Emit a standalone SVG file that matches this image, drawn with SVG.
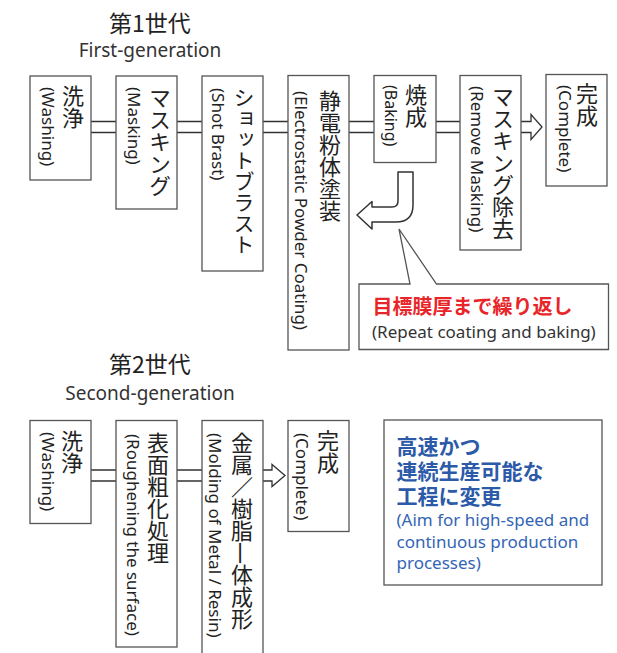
<svg xmlns="http://www.w3.org/2000/svg" width="617" height="653" viewBox="0 0 617 653">
<style>
.box{fill:#fff;stroke:#555;stroke-width:1.3}
.ln{fill:none;stroke:#333;stroke-width:1.3}
.jp{font-family:"Noto Sans CJK JP","Noto Sans",sans-serif;font-size:22px;fill:#222;writing-mode:vertical-rl}
.en{font-family:"Noto Sans","Noto Sans CJK JP",sans-serif;font-size:17px;fill:#222;writing-mode:vertical-rl}
.t1{font-family:"Noto Sans CJK JP",sans-serif;font-size:23px;fill:#222;text-anchor:middle}
.t2{font-family:"Noto Sans","Noto Sans CJK JP",sans-serif;font-size:19px;fill:#333;text-anchor:middle}
.red{font-family:"Noto Sans CJK JP",sans-serif;font-size:20px;font-weight:700;fill:#e8262a}
.sub{font-family:"Noto Sans","Noto Sans CJK JP",sans-serif;font-size:17px;fill:#333}
.bj{font-family:"Noto Sans CJK JP",sans-serif;font-size:21px;font-weight:700;fill:#2c5aa8}
.be{font-family:"Noto Sans","Noto Sans CJK JP",sans-serif;font-size:17px;fill:#3465b5}
</style>

<g id="title1">
<text class="t1" x="150" y="32">第1世代</text>
<text class="t2" x="150" y="57">First-generation</text>
</g>
<g id="title2">
<text class="t1" x="150" y="373">第2世代</text>
<text class="t2" x="150" y="400">Second-generation</text>
</g>

<g id="connectors">
<path class="ln" d="M91,121.5H116M91,132.5H116M177,121.5H202M177,132.5H202M263,121.5H288M263,132.5H288M349,121.5H374M349,132.5H374M436,121.5H460M436,132.5H460"/>
<path class="ln" d="M521,121.5H531V114.5L542,127L531,139.5V132.5H521"/>
<path class="ln" d="M91,470H116M91,481H116M177,470H202M177,481H202"/>
<path class="ln" d="M263,470H272V464.5L285,475.5L272,486.5V481H263"/>
<path d="M398,172H413V205Q413,222 396,222H372V229L357,215L372,201.5V207H392Q398,207 398,201Z" fill="#fff" stroke="#333" stroke-width="1.5" stroke-linejoin="round"/>
</g>

<g id="n1">
<rect class="box" x="30" y="76" width="61" height="104"/>
<text class="jp" x="73" y="85">洗浄</text>
<text class="en" x="48" y="87">(Washing)</text>
</g>
<g id="n2">
<rect class="box" x="116" y="76" width="61" height="133"/>
<text class="jp" x="160" y="87">マスキング</text>
<text class="en" x="134" y="87">(Masking)</text>
</g>
<g id="n3">
<rect class="box" x="202" y="76" width="61" height="195"/>
<text class="jp" x="244" y="87" style="font-size:21px">ショットブラスト</text>
<text class="en" x="218" y="88">(Shot Brast)</text>
</g>
<g id="n4">
<rect class="box" x="288" y="75.5" width="61" height="274.5"/>
<text class="jp" x="330" y="90">静電粉体塗装</text>
<text class="en" x="301" y="91">(Electrostatic Powder Coating)</text>
</g>
<g id="n5">
<rect class="box" x="374" y="75.5" width="62" height="87"/>
<text class="jp" x="416" y="84">焼成</text>
<text class="en" x="391" y="85" style="font-size:16px">(Baking)</text>
</g>
<g id="n6">
<rect class="box" x="460" y="75.5" width="61" height="174.5"/>
<text class="jp" x="503" y="86">マスキング除去</text>
<text class="en" x="477" y="86">(Remove Masking)</text>
</g>
<g id="n7">
<rect class="box" x="546" y="74.5" width="61" height="111.5"/>
<text class="jp" x="587" y="83">完成</text>
<text class="en" x="565" y="85">(Complete)</text>
</g>

<g id="callout">
<path class="box" d="M359,284H410L399,229L436.5,284H608.5V349.5H359Z"/>
<text class="red" x="372.5" y="314">目標膜厚まで繰り返し</text>
<text class="sub" x="372" y="338">(Repeat coating and baking)</text>
</g>

<g id="m1">
<rect class="box" x="30" y="420.5" width="61" height="103"/>
<text class="jp" x="72" y="430">洗浄</text>
<text class="en" x="48" y="432">(Washing)</text>
</g>
<g id="m2">
<rect class="box" x="116" y="420.5" width="61" height="226.5"/>
<text class="jp" x="158" y="432">表面粗化処理</text>
<text class="en" x="133" y="434">(Roughening the surface)</text>
</g>
<g id="m3">
<rect class="box" x="202" y="420.5" width="61" height="250"/>
<text class="jp" x="242" y="432">金属／樹脂<tspan style="text-orientation:sideways">一</tspan>体成形</text>
<text class="en" x="215" y="433">(Molding of Metal / Resin)</text>
</g>
<g id="m4">
<rect class="box" x="288" y="420.5" width="61" height="111"/>
<text class="jp" x="328" y="430">完成</text>
<text class="en" x="302" y="433">(Complete)</text>
</g>

<g id="goal">
<rect class="box" x="384" y="420" width="218" height="165"/>
<text class="bj" x="396.5" y="454">高速かつ</text>
<text class="bj" x="396.5" y="479">連続生産可能な</text>
<text class="bj" x="396.5" y="504">工程に変更</text>
<text class="be" x="396.5" y="526">(Aim for high-speed and</text>
<text class="be" x="396.5" y="548">continuous production</text>
<text class="be" x="396.5" y="569">processes)</text>
</g>
</svg>
